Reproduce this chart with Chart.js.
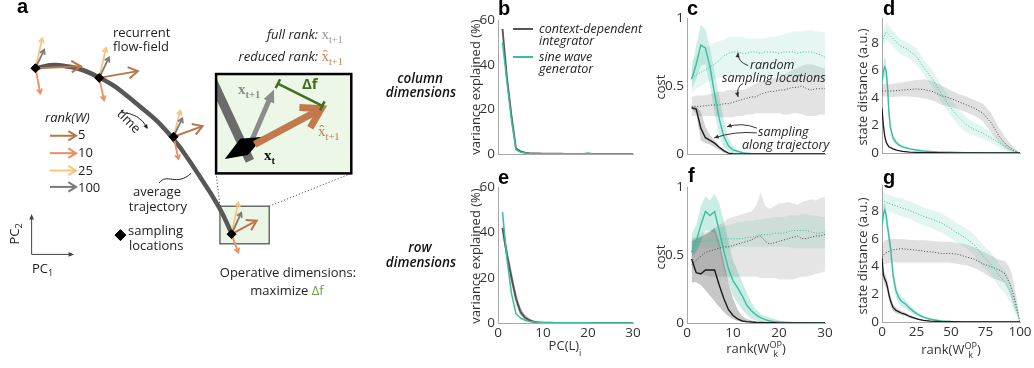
<!DOCTYPE html>
<html lang="en">
<head>
<meta charset="UTF-8">
<title>Operative dimensions</title>
<style>
  body { margin: 0; background: #fff; }
  #fig { position: relative; width: 1034px; height: 368px; overflow: hidden; background: #fff;
         font-family: 'Open Sans', sans-serif; font-size: 13px; color: #222; }
  #fig canvas { position: absolute; }
  .t { position: absolute; white-space: nowrap; line-height: 1; }
  .c { transform: translate(-50%, -50%); }
  .l { transform: translateY(-50%); }
  .r { transform: translate(-100%, -50%); }
  .v { transform: translate(-50%, -50%) rotate(-90deg); }
  .letter { font-family: 'Liberation Sans', Arial, sans-serif; font-weight: bold; font-size: 20px; color: #000; }
  .note { font-style: italic; font-size: 12.5px; color: #222; }
  .row { font-style: italic; font-weight: 600; font-size: 13.5px; color: #111; }
  .ax { font-size: 13px; color: #333; }
  .m { font-family: 'Liberation Serif', serif; }
  sub, sup { font-size: 70%; line-height: 0; }
  .ss { display: inline-block; vertical-align: middle; line-height: 0.95; font-size: 70%; text-align: center; }
  .key { position: absolute; width: 20px; }
</style>
</head>
<body>
<div id="fig">
  <canvas id="pa" width="380" height="368" style="left:0;top:0"></canvas>
  <canvas id="pb"></canvas>
  <canvas id="pc"></canvas>
  <canvas id="pd"></canvas>
  <canvas id="pe"></canvas>
  <canvas id="pf"></canvas>
  <canvas id="pg"></canvas>

  <!-- panel a -->
  <div class="t letter" style="left:17px;top:-4px">a</div>
  <div class="t l" style="left:113px;top:32px">recurrent</div>
  <div class="t l" style="left:113px;top:46px">flow-field</div>
  <div class="t r" style="left:343px;top:34px"><i>full rank:</i> <span class="m" style="color:#9a9a9a;font-size:15px">x<sub>t+1</sub></span></div>
  <div class="t r" style="left:343px;top:56px"><i>reduced rank:</i> <span class="m" style="color:#c8865b;font-size:15px">x&#770;<sub>t+1</sub></span></div>
  <div class="t l" style="left:45px;top:117px;font-style:italic">rank(W)</div>
  <div class="t l" style="left:78px;top:134px">5</div>
  <div class="t l" style="left:78px;top:152px">10</div>
  <div class="t l" style="left:78px;top:170px">25</div>
  <div class="t l" style="left:78px;top:187px">100</div>
  <div class="t" style="left:129px;top:121px;transform:translate(-50%,-50%) rotate(45deg)">time</div>
  <div class="t c" style="left:157px;top:191px">average</div>
  <div class="t c" style="left:158px;top:206px">trajectory</div>
  <div class="t l" style="left:128px;top:230px">sampling</div>
  <div class="t l" style="left:129px;top:245px">locations</div>
  <div class="t v" style="left:14px;top:234px">PC<sub>2</sub></div>
  <div class="t l" style="left:32px;top:268px">PC<sub>1</sub></div>
  <div class="t c" style="left:288px;top:272px">Operative dimensions:</div>
  <div class="t c" style="left:287px;top:290px">maximize <span style="color:#6c9d45">&Delta;f</span></div>
  <div class="t l m" style="left:238px;top:89px;color:#8a8a8a;font-weight:bold;font-size:15px">x<sub>t+1</sub></div>
  <div class="t l" style="left:302px;top:83px;color:#3f6f22;font-weight:bold;font-size:15px">&Delta;f</div>
  <div class="t l m" style="left:264px;top:155px;font-weight:bold;font-size:15px;color:#111">x<sub>t</sub></div>
  <div class="t l m" style="left:318px;top:131px;color:#c27c50;font-size:15px">x&#770;<sub>t+1</sub></div>

  <!-- row labels -->
  <div class="t c row" style="left:420px;top:79px">column</div>
  <div class="t c row" style="left:421px;top:93px">dimensions</div>
  <div class="t c row" style="left:420px;top:248px">row</div>
  <div class="t c row" style="left:421px;top:263px">dimensions</div>

  <!-- panel letters -->
  <div class="t letter" style="left:498px;top:-2px">b</div>
  <div class="t letter" style="left:687px;top:-2px">c</div>
  <div class="t letter" style="left:883px;top:-2px">d</div>
  <div class="t letter" style="left:498px;top:167px">e</div>
  <div class="t letter" style="left:688px;top:165px">f</div>
  <div class="t letter" style="left:883px;top:167px">g</div>

  <!-- axis titles -->
  <div class="t v ax" style="left:475px;top:87px">variance explained (%)</div>
  <div class="t v ax" style="left:475px;top:256px">variance explained (%)</div>
  <div class="t v ax" style="left:660px;top:87px">cost</div>
  <div class="t v ax" style="left:660px;top:257px">cost</div>
  <div class="t v ax" style="left:862px;top:87px">state distance (a.u.)</div>
  <div class="t v ax" style="left:862px;top:256px">state distance (a.u.)</div>
  <div class="t c ax" style="left:565px;top:346px">PC(L)<sub style="vertical-align:-0.6em">i</sub></div>
  <div class="t c ax" style="left:756px;top:350px">rank(W<span class="ss">OP<br>k</span>)</div>
  <div class="t c ax" style="left:951px;top:351px">rank(W<span class="ss">OP<br>k</span>)</div>

  <!-- legend in b -->
  <div class="key" style="left:513px;top:28px;height:1.5px;background:#555"></div>
  <div class="key" style="left:513px;top:56px;height:2px;background:#3dbd9f"></div>
  <div class="t l note" style="left:539px;top:29px">context-dependent</div>
  <div class="t l note" style="left:539px;top:41px">integrator</div>
  <div class="t l note" style="left:539px;top:57px">sine wave</div>
  <div class="t l note" style="left:539px;top:69px">generator</div>

  <!-- notes in c -->
  <div class="t l note" style="left:750px;top:65px">random</div>
  <div class="t l note" style="left:722px;top:78px">sampling locations</div>
  <div class="t l note" style="left:758px;top:132px">sampling</div>
  <div class="t l note" style="left:742px;top:145px">along trajectory</div>
</div>

<script src="https://cdn.jsdelivr.net/npm/chart.js"></script>
<script>
// ---------- data: panels b / e (variance explained per PC) ----------
const pcIndex = [1,2,3,4,5,6,7,8,9,10,11,12,13,14,15,16,17,18,19,20,21,22,23,24,25,26,27,28,29,30];
const bGray = [56, 34, 17, 2.5, 1.2, 0.6, 0.4, 0.3, 0.25, 0.2, 0.18, 0.16, 0.14, 0.12, 0.1, 0.1, 0.09, 0.08, 0.08, 0.07, 0.07, 0.06, 0.06, 0.05, 0.05, 0.05, 0.04, 0.04, 0.04, 0.03];
const bBandX = [1, 2, 3, 4, 5, 6];
const bGrayHi = [59, 36.5, 19.5, 3.5, 1.6, 0.8];
const bGrayLo = [53, 31.5, 14.5, 1.5, 0.8, 0.4];
const bTeal = [50, 32, 15, 2, 0.8, 0.4, 0.3, 0.2, 0.15, 0.12, 0.1, 0.1, 0.08, 0.08, 0.07, 0.07, 0.06, 0.06, 0.08, 0.4, 0.08, 0.05, 0.05, 0.05, 0.04, 0.04, 0.04, 0.03, 0.03, 0.03];

const eGray = [42, 30, 20, 10.8, 4.9, 2.4, 1.2, 0.5, 0.25, 0.12, 0.08, 0.06, 0.05, 0.04, 0.04, 0.03, 0.03, 0.03, 0.02, 0.02, 0.02, 0.02, 0.02, 0.01, 0.01, 0.01, 0.01, 0.01, 0.01, 0.01];
const eBandX = [1, 2, 3, 4, 5, 6, 7, 8, 9, 10];
const eGrayHi = [45, 33, 23, 13.5, 6.8, 3.6, 2.0, 1.0, 0.5, 0.25];
const eGrayLo = [39, 27, 17, 8.3, 3.3, 1.4, 0.6, 0.2, 0.08, 0.03];
const eTeal = [49, 28, 13, 4, 2.2, 1.2, 0.7, 0.4, 0.3, 0.2, 0.15, 0.12, 0.1, 0.1, 0.08, 0.08, 0.07, 0.07, 0.06, 0.06, 0.05, 0.05, 0.05, 0.04, 0.04, 0.04, 0.03, 0.03, 0.03, 0.03];

// ---------- data: panels c / f (cost vs rank) ----------
const rank30 = [1,2,3,4,5,6,7,8,9,10,11,12,13,14,15,16,17,18,19,20,21,22,23,24,25,26,27,28,29,30];
const rank15 = [1,2,3,4,5,6,7,8,9,10,11,12,13,14,15];

const cTeal = [0.55, 0.66, 0.80, 0.78, 0.64, 0.44, 0.26, 0.13, 0.06, 0.03, 0.02, 0.01, 0.005, 0.003, 0.002, 0.002, 0.001, 0.001, 0.001, 0.001, 0.001, 0.001, 0.001, 0.001, 0.001, 0.001, 0.001, 0.001, 0.001, 0.001];
const cTealHi = [0.62, 0.80, 0.95, 0.92, 0.78, 0.60, 0.42, 0.25, 0.12, 0.06, 0.03, 0.02, 0.01, 0.006, 0.004];
const cTealLo = [0.48, 0.55, 0.65, 0.66, 0.50, 0.30, 0.14, 0.05, 0.02, 0.01, 0.005, 0.003, 0.001, 0.001, 0.001];
const cBlack = [0.34, 0.33, 0.19, 0.12, 0.10, 0.08, 0.05, 0.025, 0.006, 0.002, 0.001, 0.001, 0, 0, 0, 0, 0, 0, 0, 0, 0, 0, 0, 0, 0, 0, 0, 0, 0, 0];
const cBlackHi = [0.35, 0.35, 0.31, 0.20, 0.14, 0.10, 0.06, 0.03, 0.01, 0.004, 0.002, 0.001, 0, 0, 0];
const cBlackLo = [0.33, 0.30, 0.10, 0.08, 0.07, 0.05, 0.03, 0.01, 0.002, 0, 0, 0, 0, 0, 0];
const cTealRand = [0.56, 0.58, 0.60, 0.62, 0.64, 0.66, 0.69, 0.72, 0.74, 0.75, 0.75, 0.74, 0.74, 0.75, 0.75, 0.74, 0.75, 0.75, 0.75, 0.74, 0.75, 0.75, 0.75, 0.74, 0.75, 0.75, 0.75, 0.74, 0.73, 0.71];
const cTealRandHi = [0.68, 0.72, 0.75, 0.78, 0.80, 0.82, 0.83, 0.84, 0.86, 0.86, 0.86, 0.86, 0.85, 0.85, 0.85, 0.85, 0.85, 0.86, 0.86, 0.87, 0.88, 0.89, 0.9, 0.9, 0.9, 0.91, 0.91, 0.9, 0.9, 0.89];
const cTealRandLo = [0.45, 0.48, 0.50, 0.52, 0.54, 0.55, 0.56, 0.57, 0.58, 0.58, 0.57, 0.57, 0.58, 0.58, 0.58, 0.57, 0.58, 0.58, 0.57, 0.57, 0.58, 0.58, 0.57, 0.56, 0.57, 0.58, 0.57, 0.56, 0.55, 0.55];
const cGrayRand = [0.35, 0.35, 0.35, 0.355, 0.36, 0.36, 0.36, 0.37, 0.37, 0.38, 0.39, 0.40, 0.41, 0.42, 0.42, 0.44, 0.45, 0.46, 0.46, 0.47, 0.47, 0.48, 0.49, 0.49, 0.50, 0.48, 0.47, 0.48, 0.48, 0.48];
const cGrayRandHi = [0.42, 0.43, 0.43, 0.43, 0.44, 0.45, 0.46, 0.46, 0.47, 0.47, 0.47, 0.47, 0.48, 0.5, 0.52, 0.53, 0.54, 0.55, 0.56, 0.56, 0.58, 0.6, 0.62, 0.63, 0.65, 0.66, 0.66, 0.65, 0.64, 0.63];
const cGrayRandLo = [0.28, 0.28, 0.28, 0.28, 0.28, 0.28, 0.27, 0.27, 0.27, 0.27, 0.28, 0.28, 0.29, 0.29, 0.3, 0.3, 0.3, 0.3, 0.3, 0.3, 0.29, 0.29, 0.3, 0.3, 0.29, 0.28, 0.28, 0.28, 0.29, 0.29];

const fTeal = [0.52, 0.60, 0.72, 0.82, 0.79, 0.82, 0.68, 0.53, 0.40, 0.31, 0.26, 0.20, 0.13, 0.09, 0.06, 0.04, 0.025, 0.015, 0.01, 0.007, 0.005, 0.004, 0.003, 0.002, 0.002, 0.001, 0.001, 0.001, 0.001, 0.001];
const fTealHi = [0.65, 0.72, 0.86, 0.93, 0.90, 0.95, 0.88, 0.75, 0.60, 0.46, 0.38, 0.30, 0.22, 0.15, 0.10, 0.07, 0.05, 0.04, 0.03, 0.02, 0.015, 0.01, 0.01, 0.008, 0.006, 0.005, 0.004, 0.003, 0.003, 0.002];
const fTealLo = [0.48, 0.52, 0.60, 0.68, 0.68, 0.66, 0.55, 0.40, 0.30, 0.20, 0.15, 0.10, 0.06, 0.03, 0.02, 0.01, 0.005, 0.003, 0.002, 0.001, 0, 0, 0, 0, 0, 0, 0, 0, 0, 0];
const fBlack = [0.47, 0.37, 0.36, 0.39, 0.39, 0.39, 0.28, 0.18, 0.10, 0.055, 0.03, 0.015, 0.01, 0.007, 0.005, 0.004, 0.003, 0.002, 0.002, 0.001, 0.001, 0.001, 0.001, 0.001, 0.001, 0.001, 0.001, 0.001, 0.001, 0.001];
const fBlackHi = [0.60, 0.62, 0.63, 0.65, 0.67, 0.70, 0.60, 0.45, 0.30, 0.18, 0.10, 0.05, 0.03, 0.02, 0.01];
const fBlackLo = [0.30, 0.30, 0.28, 0.24, 0.20, 0.16, 0.12, 0.08, 0.05, 0.03, 0.015, 0.008, 0.004, 0.002, 0];
const fTealRand = [0.55, 0.58, 0.60, 0.60, 0.61, 0.61, 0.61, 0.62, 0.62, 0.62, 0.62, 0.62, 0.63, 0.63, 0.64, 0.65, 0.65, 0.65, 0.66, 0.66, 0.66, 0.67, 0.68, 0.68, 0.68, 0.68, 0.67, 0.66, 0.66, 0.67];
const fTealRandHi = [0.62, 0.64, 0.66, 0.67, 0.68, 0.69, 0.7, 0.71, 0.72, 0.73, 0.74, 0.74, 0.75, 0.75, 0.76, 0.76, 0.77, 0.77, 0.78, 0.78, 0.78, 0.79, 0.79, 0.79, 0.8, 0.8, 0.79, 0.79, 0.78, 0.78];
const fTealRandLo = [0.5, 0.53, 0.55, 0.55, 0.55, 0.55, 0.55, 0.55, 0.55, 0.55, 0.56, 0.56, 0.56, 0.56, 0.56, 0.56, 0.56, 0.56, 0.56, 0.56, 0.56, 0.56, 0.55, 0.55, 0.55, 0.55, 0.55, 0.55, 0.55, 0.55];
const fGrayRand = [0.43, 0.46, 0.49, 0.52, 0.53, 0.54, 0.55, 0.56, 0.56, 0.57, 0.58, 0.59, 0.60, 0.61, 0.63, 0.64, 0.60, 0.58, 0.59, 0.60, 0.61, 0.62, 0.63, 0.64, 0.62, 0.62, 0.63, 0.64, 0.64, 0.65];
const fGrayRandHi = [0.62, 0.63, 0.64, 0.66, 0.68, 0.70, 0.72, 0.74, 0.77, 0.78, 0.79, 0.80, 0.81, 0.82, 0.86, 0.96, 0.86, 0.84, 0.86, 0.88, 0.88, 0.89, 0.88, 0.87, 0.89, 0.9, 0.91, 0.9, 0.92, 0.93];
const fGrayRandLo = [0.4, 0.38, 0.36, 0.35, 0.34, 0.34, 0.34, 0.34, 0.34, 0.34, 0.34, 0.34, 0.34, 0.34, 0.34, 0.33, 0.33, 0.33, 0.33, 0.32, 0.32, 0.32, 0.32, 0.33, 0.34, 0.34, 0.35, 0.36, 0.37, 0.38];

// ---------- data: panels d / g (state distance vs rank) ----------
const dRandX = [0, 3, 7, 13, 19, 25, 31, 37, 43, 49, 55, 61, 67, 73, 79, 85, 91, 96, 100];
const dTealRand = [8.1, 8.8, 8.4, 7.8, 7.5, 7.0, 6.1, 5.3, 4.3, 3.4, 2.65, 2.05, 1.7, 1.45, 1.1, 0.72, 0.36, 0.12, 0];
const dTealRandHi = [8.6, 9.5, 9.0, 8.3, 8.0, 7.6, 6.7, 5.9, 4.9, 4.0, 3.25, 2.6, 2.2, 1.9, 1.5, 1.05, 0.6, 0.25, 0];
const dTealRandLo = [7.6, 8.2, 7.8, 7.2, 6.9, 6.4, 5.6, 4.7, 3.7, 2.8, 2.05, 1.5, 1.25, 1.05, 0.72, 0.42, 0.15, 0.03, 0];
const dGrayRand = [4.5, 4.5, 4.5, 4.55, 4.6, 4.65, 4.6, 4.45, 4.15, 4.0, 3.75, 3.5, 3.25, 2.9, 2.2, 1.2, 0.5, 0.15, 0];
const dGrayRandHi = [5.0, 5.0, 5.0, 5.1, 5.2, 5.3, 5.35, 5.2, 4.9, 4.6, 4.3, 4.1, 3.85, 3.6, 2.9, 1.8, 0.9, 0.35, 0];
const dGrayRandLo = [4.1, 4.1, 4.05, 4.1, 4.1, 4.05, 3.95, 3.8, 3.5, 3.35, 3.2, 2.95, 2.7, 2.3, 1.5, 0.7, 0.2, 0.03, 0];
const dTrajX = [0, 1, 2, 3, 4, 5, 6, 8, 10, 12, 15, 20, 25, 30, 40, 50, 60, 80, 100];
const dTeal = [5.2, 5.9, 6.25, 6.0, 4.8, 3.0, 1.9, 1.1, 0.8, 0.6, 0.45, 0.3, 0.22, 0.15, 0.08, 0.05, 0.03, 0.01, 0];
const dTealHi = [5.6, 6.6, 7.0, 6.7, 5.5, 3.6, 2.3, 1.35, 1.0, 0.75, 0.55, 0.37, 0.27, 0.19, 0.1, 0.06, 0.04, 0.015, 0];
const dTealLo = [4.8, 5.3, 5.6, 5.3, 4.1, 2.4, 1.5, 0.85, 0.6, 0.45, 0.35, 0.23, 0.17, 0.11, 0.06, 0.04, 0.02, 0.005, 0];
const dBlack = [3.25, 2.0, 1.2, 0.8, 0.6, 0.45, 0.4, 0.3, 0.22, 0.17, 0.12, 0.07, 0.05, 0.03, 0.02, 0.01, 0.01, 0, 0];
const dBlackHi = [3.4, 2.15, 1.3, 0.9, 0.68, 0.52, 0.46, 0.35, 0.26, 0.2, 0.14, 0.09, 0.06, 0.04, 0.025, 0.015, 0.01, 0, 0];
const dBlackLo = [3.1, 1.85, 1.1, 0.7, 0.52, 0.38, 0.34, 0.25, 0.18, 0.14, 0.1, 0.05, 0.04, 0.02, 0.015, 0.005, 0.005, 0, 0];

const gRandX = [0, 2, 7, 14, 19, 25, 31, 37, 43, 49, 55, 61, 67, 73, 79, 85, 89, 92, 94, 96, 98, 100];
const gTealRand = [8.85, 8.7, 8.5, 8.25, 8.1, 7.85, 7.6, 7.4, 7.15, 6.8, 6.4, 6.05, 5.55, 4.8, 4.2, 3.35, 2.9, 2.4, 1.9, 1.3, 0.7, 0];
const gTealRandHi = [9.5, 9.3, 9.1, 8.9, 8.75, 8.5, 8.25, 8.05, 7.85, 7.5, 7.1, 6.75, 6.3, 5.6, 5.0, 4.2, 3.7, 3.2, 2.6, 1.9, 1.1, 0];
const gTealRandLo = [8.2, 8.1, 7.9, 7.65, 7.5, 7.2, 6.95, 6.75, 6.45, 6.1, 5.7, 5.35, 4.8, 4.0, 3.4, 2.5, 2.1, 1.6, 1.2, 0.7, 0.3, 0];
const gGrayRand = [4.7, 4.95, 5.2, 5.3, 5.25, 5.2, 5.1, 5.05, 4.95, 4.95, 4.9, 4.7, 4.55, 4.2, 4.0, 3.75, 3.5, 2.9, 2.4, 1.7, 0.9, 0];
const gGrayRandHi = [5.6, 5.9, 6.0, 6.0, 5.95, 5.9, 5.9, 5.85, 5.8, 5.8, 5.7, 5.6, 5.4, 5.1, 4.8, 4.5, 4.4, 4.0, 3.5, 2.6, 1.5, 0];
const gGrayRandLo = [4.0, 4.2, 4.3, 4.3, 4.3, 4.3, 4.3, 4.3, 4.3, 4.3, 4.2, 4.1, 3.9, 3.6, 3.2, 3.0, 2.8, 2.2, 1.6, 1.0, 0.5, 0];
const gTrajX = [0, 1, 2, 3, 4, 5, 6, 7, 8, 10, 12, 14, 17, 20, 23, 26, 30, 35, 43, 50, 60, 80, 100];
const gTeal = [7.0, 7.8, 8.1, 7.7, 6.9, 6.2, 5.5, 4.5, 3.4, 2.3, 1.8, 1.5, 1.3, 1.0, 0.75, 0.55, 0.35, 0.2, 0.08, 0.04, 0.02, 0.01, 0];
const gTealHi = [7.6, 8.4, 8.7, 8.3, 7.5, 6.8, 6.1, 5.1, 4.0, 2.8, 2.2, 1.85, 1.6, 1.25, 0.95, 0.7, 0.45, 0.27, 0.11, 0.06, 0.03, 0.015, 0];
const gTealLo = [6.4, 7.2, 7.5, 7.1, 6.3, 5.6, 4.9, 3.9, 2.8, 1.8, 1.4, 1.15, 1.0, 0.75, 0.55, 0.4, 0.25, 0.13, 0.05, 0.02, 0.01, 0.005, 0];
const gBlack = [4.6, 3.4, 3.1, 2.9, 2.5, 2.0, 1.6, 1.3, 1.05, 0.85, 0.75, 0.65, 0.55, 0.4, 0.3, 0.2, 0.12, 0.07, 0.03, 0.02, 0.01, 0, 0];
const gBlackHi = [4.9, 3.8, 3.5, 3.3, 2.9, 2.4, 1.95, 1.6, 1.3, 1.05, 0.9, 0.8, 0.67, 0.5, 0.38, 0.26, 0.16, 0.09, 0.04, 0.03, 0.01, 0, 0];
const gBlackLo = [4.3, 3.0, 2.7, 2.5, 2.1, 1.6, 1.25, 1.0, 0.8, 0.65, 0.6, 0.5, 0.43, 0.3, 0.22, 0.14, 0.08, 0.05, 0.02, 0.01, 0.005, 0, 0];

// ---------- schematic (panel a), in canvas pixel units ----------
const trajX = [28, 55, 95, 135, 170, 200, 220, 233];
const trajY = [64, 61, 73, 101, 134, 176, 208, 235];
const sampleX = [30, 96, 173, 233];
const sampleY = [64, 74, 135, 236];
const rankNames = ['5', '10', '25', '100'];
const rankColors = ['#b9754b', '#f28d5c', '#f9c57c', '#7a7a7a'];
const flowTipX = [[77, 136, 203, 259], [35, 101, 178, 240], [37, 103, 180, 240], [39, 106, 182, 243]];
const flowTipY = [[62, 67, 124, 222], [90, 97, 158, 255], [33, 43, 108, 203], [45, 53, 116, 214]];
const keyArrowY = [134, 152, 170, 187];
const zoomBox = [221, 207, 272, 246];
const bigBox = [217, 70, 357, 173];

const TEAL = '#3dbd9f';
Chart.defaults.font.family = "'Open Sans', sans-serif";
Chart.defaults.color = '#333';

function pts(xs, ys) { return xs.map((x, i) => ({ x: x, y: ys[i] })); }

function line(xs, ys, color, width, dash) {
  return { data: pts(xs, ys), borderColor: color, borderWidth: width, borderDash: dash || [],
           pointRadius: 0, fill: false, order: 1 };
}

function band(xs, lo, hi, color) {
  return [
    { data: pts(xs, hi), borderWidth: 0, borderColor: 'rgba(0,0,0,0)', pointRadius: 0, fill: '+1', backgroundColor: color, order: 5 },
    { data: pts(xs, lo), borderWidth: 0, borderColor: 'rgba(0,0,0,0)', pointRadius: 0, fill: false, order: 5 }
  ];
}

function makePanel(id, box, xr, yr, datasets, plugins) {
  const L = 44, T = 12, R = 16, B = 30;
  const cv = document.getElementById(id);
  cv.width = box.w + L + R;
  cv.height = box.h + T + B;
  cv.style.left = (box.x - L) + 'px';
  cv.style.top = (box.y - T) + 'px';
  return new Chart(cv, {
    type: 'line',
    data: { datasets: datasets },
    options: {
      responsive: false,
      animation: false,
      events: [],
      layout: { padding: { top: T, right: R, left: 0, bottom: 0 } },
      plugins: { legend: { display: false }, tooltip: { enabled: false } },
      scales: {
        x: {
          type: 'linear', min: xr.min, max: xr.max,
          grid: { display: false, drawTicks: false },
          border: { display: true, color: '#a8a8a8', width: 1 },
          ticks: { display: xr.ticks, stepSize: xr.step, padding: 2, maxRotation: 0, font: { size: 13.5 }, color: '#333' },
          afterFit: s => { s.height = B; }
        },
        y: {
          type: 'linear', min: yr.min, max: yr.max,
          grid: { display: false, drawTicks: false },
          border: { display: true, color: '#a8a8a8', width: 1 },
          ticks: { stepSize: yr.step, includeBounds: false, padding: 3, font: { size: 13.5 }, color: '#333',
                   callback: v => String(v) },
          afterFit: s => { s.width = L; }
        }
      }
    },
    plugins: plugins || []
  });
}

function arrowHead(ctx, tx, ty, ang, len, spread) {
  ctx.beginPath();
  ctx.moveTo(tx, ty);
  ctx.lineTo(tx - len * Math.cos(ang - spread), ty - len * Math.sin(ang - spread));
  ctx.lineTo(tx - len * Math.cos(ang + spread), ty - len * Math.sin(ang + spread));
  ctx.closePath();
  ctx.fill();
}

function openArrow(ctx, x0, y0, x1, y1, color, width, head) {
  const a = Math.atan2(y1 - y0, x1 - x0);
  ctx.save();
  ctx.strokeStyle = color; ctx.lineWidth = width; ctx.lineCap = 'butt'; ctx.lineJoin = 'miter';
  ctx.beginPath(); ctx.moveTo(x0, y0); ctx.lineTo(x1, y1); ctx.stroke();
  ctx.beginPath();
  ctx.moveTo(x1 - head * Math.cos(a - 0.55), y1 - head * Math.sin(a - 0.55));
  ctx.lineTo(x1, y1);
  ctx.lineTo(x1 - head * Math.cos(a + 0.55), y1 - head * Math.sin(a + 0.55));
  ctx.stroke();
  ctx.restore();
}

// annotation arrows for panel c, in rank / cost units: start, control, tip
const cNoteArrows = [
  [13.3, 0.65, 10.9, 0.68, 11.1, 0.745],
  [12.2, 0.52, 10.6, 0.49, 11.1, 0.42],
  [15.2, 0.19, 12.0, 0.235, 8.7, 0.20],
  [15.2, 0.155, 10.4, 0.17, 5.9, 0.118]
];

const cNotes = {
  id: 'cNotes',
  afterDatasetsDraw(chart) {
    const ctx = chart.ctx, xs = chart.scales.x, ys = chart.scales.y;
    ctx.save();
    ctx.strokeStyle = '#333'; ctx.fillStyle = '#333'; ctx.lineWidth = 1;
    cNoteArrows.forEach(a => {
      const sx = xs.getPixelForValue(a[0]), sy = ys.getPixelForValue(a[1]);
      const qx = xs.getPixelForValue(a[2]), qy = ys.getPixelForValue(a[3]);
      const tx = xs.getPixelForValue(a[4]), ty = ys.getPixelForValue(a[5]);
      ctx.beginPath(); ctx.moveTo(sx, sy); ctx.quadraticCurveTo(qx, qy, tx, ty); ctx.stroke();
      arrowHead(ctx, tx, ty, Math.atan2(ty - qy, tx - qx), 5, 0.45);
    });
    ctx.restore();
  }
};

// ---------- panel b ----------
makePanel('pb', { x: 498, y: 20, w: 135, h: 134 }, { min: 0, max: 30, step: 10, ticks: false }, { min: 0, max: 60, step: 20 }, [
  ...band(bBandX, bGrayLo, bGrayHi, 'rgba(0,0,0,0.12)'),
  line(pcIndex, bTeal, TEAL, 1.5),
  line(pcIndex, bGray, '#555', 1.8)
]);

// ---------- panel c ----------
makePanel('pc', { x: 687, y: 18, w: 138, h: 136 }, { min: 0, max: 30, step: 10, ticks: false }, { min: 0, max: 1, step: 0.5 }, [
  ...band(rank30, cTealRandLo, cTealRandHi, 'rgba(61,189,159,0.13)'),
  ...band(rank30, cGrayRandLo, cGrayRandHi, 'rgba(0,0,0,0.11)'),
  ...band(rank15, cBlackLo, cBlackHi, 'rgba(0,0,0,0.18)'),
  ...band(rank15, cTealLo, cTealHi, 'rgba(61,189,159,0.25)'),
  line(rank30, cBlack, '#1a1a1a', 1.4),
  line(rank30, cTeal, TEAL, 1.4),
  line(rank30, cTealRand, TEAL, 1, [1, 1.8]),
  line(rank30, cGrayRand, '#444', 1, [1, 1.8])
], [cNotes]);

// ---------- panel d ----------
makePanel('pd', { x: 882, y: 18, w: 138, h: 135 }, { min: 0, max: 100, step: 25, ticks: false }, { min: 0, max: 9.8, step: 2 }, [
  ...band(dRandX, dTealRandLo, dTealRandHi, 'rgba(61,189,159,0.15)'),
  ...band(dRandX, dGrayRandLo, dGrayRandHi, 'rgba(0,0,0,0.12)'),
  ...band(dTrajX, dTealLo, dTealHi, 'rgba(61,189,159,0.25)'),
  ...band(dTrajX, dBlackLo, dBlackHi, 'rgba(0,0,0,0.15)'),
  line(dTrajX, dBlack, '#1a1a1a', 1.3),
  line(dTrajX, dTeal, TEAL, 1.4),
  line(dRandX, dTealRand, TEAL, 1, [1, 1.8]),
  line(dRandX, dGrayRand, '#444', 1, [1, 1.8])
]);

// ---------- panel e ----------
makePanel('pe', { x: 498, y: 187, w: 135, h: 136 }, { min: 0, max: 30, step: 10, ticks: true }, { min: 0, max: 60, step: 20 }, [
  ...band(eBandX, eGrayLo, eGrayHi, 'rgba(0,0,0,0.22)'),
  line(pcIndex, eTeal, TEAL, 1.5),
  line(pcIndex, eGray, '#555', 2)
]);

// ---------- panel f ----------
makePanel('pf', { x: 687, y: 187, w: 138, h: 136 }, { min: 0, max: 30, step: 10, ticks: true }, { min: 0, max: 1, step: 0.5 }, [
  ...band(rank30, fGrayRandLo, fGrayRandHi, 'rgba(0,0,0,0.1)'),
  ...band(rank30, fTealRandLo, fTealRandHi, 'rgba(61,189,159,0.14)'),
  ...band(rank15, fBlackLo, fBlackHi, 'rgba(0,0,0,0.22)'),
  ...band(rank30, fTealLo, fTealHi, 'rgba(61,189,159,0.28)'),
  line(rank30, fBlack, '#1a1a1a', 1.4),
  line(rank30, fTeal, TEAL, 1.4),
  line(rank30, fTealRand, TEAL, 1, [1, 1.8]),
  line(rank30, fGrayRand, '#444', 1, [1, 1.8])
]);

// ---------- panel g ----------
makePanel('pg', { x: 882, y: 185, w: 138, h: 137 }, { min: 0, max: 100, step: 25, ticks: true }, { min: 0, max: 9.9, step: 2 }, [
  ...band(gRandX, gTealRandLo, gTealRandHi, 'rgba(61,189,159,0.15)'),
  ...band(gRandX, gGrayRandLo, gGrayRandHi, 'rgba(0,0,0,0.12)'),
  ...band(gTrajX, gTealLo, gTealHi, 'rgba(61,189,159,0.25)'),
  ...band(gTrajX, gBlackLo, gBlackHi, 'rgba(0,0,0,0.2)'),
  line(gTrajX, gBlack, '#1a1a1a', 1.3),
  line(gTrajX, gTeal, TEAL, 1.4),
  line(gRandX, gTealRand, TEAL, 1, [1, 1.8]),
  line(gRandX, gGrayRand, '#444', 1, [1, 1.8])
]);

// ---------- panel a: schematic ----------
const schematic = {
  id: 'schematic',
  beforeDatasetsDraw(chart) {
    const ctx = chart.ctx;
    const X = v => chart.scales.x.getPixelForValue(v), Y = v => chart.scales.y.getPixelForValue(v);
    ctx.save();
    ctx.fillStyle = '#eaf5e5';
    ctx.fillRect(X(zoomBox[0]), Y(zoomBox[1]), X(zoomBox[2]) - X(zoomBox[0]), Y(zoomBox[3]) - Y(zoomBox[1]));
    ctx.strokeStyle = '#4a4a4a'; ctx.lineWidth = 1.2;
    ctx.strokeRect(X(zoomBox[0]), Y(zoomBox[1]), X(zoomBox[2]) - X(zoomBox[0]), Y(zoomBox[3]) - Y(zoomBox[1]));
    ctx.setLineDash([1.2, 2]); ctx.strokeStyle = '#555'; ctx.lineWidth = 1;
    ctx.beginPath();
    ctx.moveTo(X(zoomBox[0]), Y(zoomBox[1])); ctx.lineTo(X(bigBox[0]), Y(bigBox[3]));
    ctx.moveTo(X(zoomBox[2]), Y(zoomBox[1])); ctx.lineTo(X(bigBox[2]), Y(bigBox[3]));
    ctx.stroke();
    ctx.restore();
  },
  afterDatasetDraw(chart, args) {
    if (args.index !== 0) return;
    const ctx = chart.ctx;
    const X = v => chart.scales.x.getPixelForValue(v), Y = v => chart.scales.y.getPixelForValue(v);
    // flow-field arrows at each sampling location, brown (rank 5) on top
    [1, 2, 3, 0].forEach(r => {
      sampleX.forEach((sx, i) => {
        const big = r === 0;
        openArrow(ctx, X(sx), Y(sampleY[i]), X(flowTipX[r][i]), Y(flowTipY[r][i]), rankColors[r], big ? 2 : 1.8, big ? 11 : 5);
      });
    });
  },
  afterDatasetsDraw(chart) {
    const ctx = chart.ctx;
    const X = v => chart.scales.x.getPixelForValue(v), Y = v => chart.scales.y.getPixelForValue(v);
    ctx.save();
    // rank legend arrows
    keyArrowY.forEach((ky, r) => openArrow(ctx, X(45), Y(ky), X(72), Y(ky), rankColors[r], 2, 9));

    // PC axes
    ctx.strokeStyle = '#444'; ctx.fillStyle = '#444'; ctx.lineWidth = 1;
    ctx.beginPath(); ctx.moveTo(X(26), Y(220)); ctx.lineTo(X(26), Y(257)); ctx.lineTo(X(66), Y(257)); ctx.stroke();
    arrowHead(ctx, X(26), Y(215), -Math.PI / 2, 6, 0.4);
    arrowHead(ctx, X(70), Y(257), 0, 6, 0.4);

    // "time" arrow and squiggle to the trajectory
    ctx.strokeStyle = '#222'; ctx.fillStyle = '#222';
    ctx.beginPath(); ctx.moveTo(X(119), Y(110)); ctx.quadraticCurveTo(X(137), Y(110), X(146), Y(126)); ctx.stroke();
    arrowHead(ctx, X(146), Y(127), Math.atan2(16, 9), 5, 0.45);
    ctx.beginPath(); ctx.moveTo(X(158), Y(183)); ctx.bezierCurveTo(X(166), Y(172), X(176), Y(187), X(191), Y(173)); ctx.stroke();

    // magnified view
    const bx = X(bigBox[0]), by = Y(bigBox[1]), bw = X(bigBox[2]) - bx, bh = Y(bigBox[3]) - by;
    ctx.fillStyle = '#ecf7e8';
    ctx.fillRect(bx, by, bw, bh);
    ctx.save();
    ctx.beginPath(); ctx.rect(bx, by, bw, bh); ctx.clip();
    ctx.strokeStyle = '#6b6b6b'; ctx.lineWidth = 9; ctx.lineCap = 'butt';
    ctx.beginPath(); ctx.moveTo(X(213), Y(76)); ctx.lineTo(X(252), Y(160)); ctx.stroke();
    // full-rank step (gray)
    ctx.strokeStyle = '#8c8c8c'; ctx.fillStyle = '#8c8c8c'; ctx.lineWidth = 5;
    ctx.beginPath(); ctx.moveTo(X(250), Y(148)); ctx.lineTo(X(272), Y(97)); ctx.stroke();
    arrowHead(ctx, X(277), Y(86), Math.atan2(-60, 26), 14, 0.42);
    // sampling location
    ctx.fillStyle = '#000';
    ctx.beginPath(); ctx.moveTo(X(226), Y(158)); ctx.lineTo(X(242), Y(137)); ctx.lineTo(X(266), Y(135)); ctx.lineTo(X(250), Y(154)); ctx.closePath(); ctx.fill();
    ctx.restore();
    // reduced-rank step (brown)
    openArrow(ctx, X(257), Y(143), X(326), Y(106), '#c27a4c', 7, 22);
    // delta f
    ctx.strokeStyle = '#3f6f22'; ctx.lineWidth = 2.5;
    const fa = Math.atan2(23, 46), px = -Math.sin(fa) * 5, py = Math.cos(fa) * 5;
    ctx.beginPath();
    ctx.moveTo(X(281), Y(80)); ctx.lineTo(X(327), Y(103));
    ctx.moveTo(X(281) + px, Y(80) + py); ctx.lineTo(X(281) - px, Y(80) - py);
    ctx.moveTo(X(327) + px, Y(103) + py); ctx.lineTo(X(327) - px, Y(103) - py);
    ctx.stroke();
    ctx.strokeStyle = '#000'; ctx.lineWidth = 2.5;
    ctx.strokeRect(bx, by, bw, bh);
    ctx.restore();
  }
};

new Chart(document.getElementById('pa'), {
  type: 'line',
  data: {
    datasets: [
      { data: pts(trajX, trajY), borderColor: '#575757', borderWidth: 4.5, tension: 0.45, pointRadius: 0,
        borderCapStyle: 'round', fill: false, order: 3 },
      { data: pts(sampleX, sampleY), showLine: false, pointStyle: 'rectRot', pointRadius: 4.5,
        pointBackgroundColor: '#000', pointBorderColor: '#000', order: 1 },
      { data: [{ x: 118, y: 237 }], showLine: false, pointStyle: 'rectRot', pointRadius: 5.5,
        pointBackgroundColor: '#000', pointBorderColor: '#000', order: 1 }
    ]
  },
  options: {
    responsive: false,
    animation: false,
    events: [],
    layout: { padding: 0 },
    plugins: { legend: { display: false }, tooltip: { enabled: false } },
    scales: {
      x: { type: 'linear', display: false, min: 0, max: 380 },
      y: { type: 'linear', display: false, min: 0, max: 368, reverse: true }
    }
  },
  plugins: [schematic]
});
</script>
</body>
</html>
